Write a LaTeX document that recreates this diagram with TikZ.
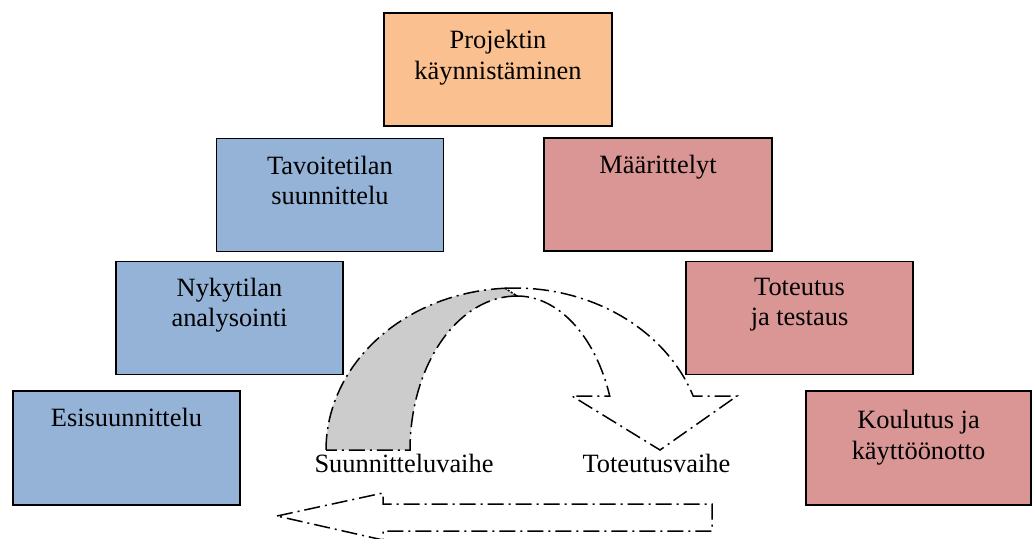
\documentclass[tikz,border=0pt]{standalone}
\usepackage{fontspec}
\setmainfont{Liberation Serif}
\usetikzlibrary{calc}
\definecolor{startfill}{HTML}{FAC090}
\definecolor{planfill}{HTML}{95B3D7}
\definecolor{buildfill}{HTML}{D99694}
\definecolor{bandgray}{HTML}{CCCCCC}
\begin{document}
\begin{tikzpicture}[x=1pt,y=-1pt,
  phasebox/.style={draw=black, line width=1.5pt, rectangle, inner sep=0pt,
    minimum width=227pt, minimum height=113pt},
  boxtext/.style={font=\fontsize{26.4}{30.4}\selectfont, align=center,
    inner sep=0pt, anchor=north},
  phaselabel/.style={font=\fontsize{26.4}{30.4}\selectfont, inner sep=0pt, anchor=base},
  flow/.style={draw=black, line width=1.5pt, line join=miter,
    dash pattern=on 16pt off 5pt on 2pt off 5pt},
]
\useasboundingbox (0,0) rectangle (1033,538);
\fill[white] (0,0) rectangle (1033,538);
\clip (0,0) rectangle (1033,538);

% phase boxes
\node[phasebox, fill=startfill, minimum width=228pt] (start) at (498,69.5) {};
\node[phasebox, fill=planfill] (goal) at (330,195) {};
\node[phasebox, fill=buildfill, minimum width=228pt] (spec) at (658,194.5) {};
\node[phasebox, fill=planfill] (current) at (229.5,318) {};
\node[phasebox, fill=buildfill] (impl) at (799.5,318) {};
\node[phasebox, fill=planfill, minimum height=114pt] (pre) at (126.5,448) {};
\node[phasebox, fill=buildfill, minimum width=225pt, minimum height=114pt] (train) at (918.5,448) {};

% box texts
\node[boxtext] (startlbl) at ($(start.north)+(0,18)$) {Projektin\\käynnistäminen};
\node[boxtext] (goallbl) at ($(goal.north)+(0,18)$) {Tavoitetilan\\suunnittelu};
\node[boxtext] (speclbl) at ($(spec.north)+(0,18)$) {Määrittelyt};
\node[boxtext] (currentlbl) at ($(current.north)+(0,17)$) {Nykytilan\\analysointi};
\node[boxtext] (impllbl) at ($(impl.north)+(0,17)$) {Toteutus\\ja testaus};
\node[boxtext] (prelbl) at ($(pre.north)+(0,18)$) {Esisuunnittelu};
\node[boxtext] (trainlbl) at ($(train.north)+(0,20)$) {Koulutus ja\\käyttöönotto};

% curved arrow: shaded back band
\path[flow, fill=bandgray]
  plot[domain=180:93.03, samples=40, variable=\t] ({515+189*cos(\t)}, {450-162*sin(\t)})
  -- (517,296)
  -- plot[domain=90:180, samples=40, variable=\t] ({517+107*cos(\t)}, {450-154*sin(\t)})
  -- cycle;

% curved arrow: front band with head
\path[flow]
  plot[domain=93.03:19.47, samples=40, variable=\t] ({515+189*cos(\t)}, {450-162*sin(\t)})
  -- (737,396) -- (660,450) -- (572,396)
  -- plot[domain=20.53:90, samples=40, variable=\t] ({517+99*cos(\t)}, {450-154*sin(\t)})
  -- cycle;

% phase labels
\node[phaselabel] (designphase) at (404,472) {Suunnitteluvaihe};
\node[phaselabel] (buildphase) at (656.5,472) {Toteutusvaihe};

% return arrow along the bottom
\path[flow] (277,516) -- (383,493) -- (383,504) -- (712,504) -- (712,531)
  -- (383,531) -- (383,540) -- cycle;
\end{tikzpicture}
\end{document}
